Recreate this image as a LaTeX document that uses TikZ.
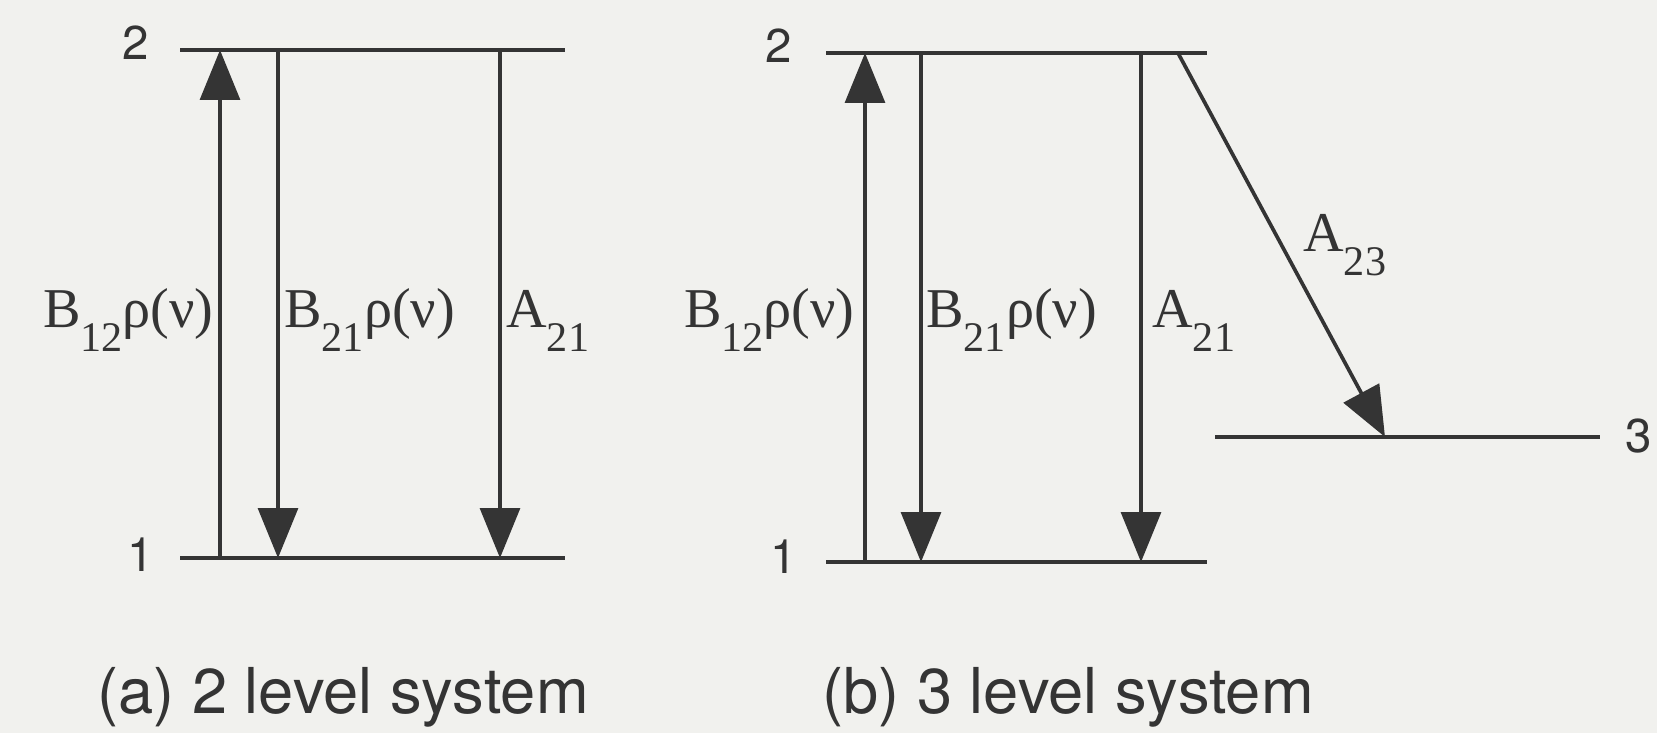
\documentclass[tikz,border=0pt]{standalone}
\usepackage{fontspec}
\setmainfont{Liberation Serif}
\setsansfont{TeX Gyre Heros}
\usetikzlibrary{arrows.meta}
\definecolor{ink}{RGB}{52,52,52}
\definecolor{paper}{RGB}{241,241,238}
\newcommand{\lowidx}[1]{\raisebox{-0.42em}{\fontsize{24}{24}\selectfont #1}}
\tikzset{
  level/.style={ink, line width=2.4pt},
  trans/.style={ink, line width=1.8pt, -{Triangle[length=1cm,width=0.8cm]}},
  rate/.style={ink, inner sep=0pt, font=\fontsize{32}{32}\selectfont},
  num/.style={ink, inner sep=0pt, font=\sffamily\fontsize{27}{27}\selectfont},
  caption/.style={ink, inner sep=0pt, font=\sffamily\fontsize{36}{36}\selectfont},
}

\begin{document}
\begin{tikzpicture}[x=0.02cm, y=-0.02cm]
  \fill[paper] (0,0) rectangle (1657,733);
  \useasboundingbox (0,0) rectangle (1657,733);

  \coordinate (a2l) at (180,50);
  \coordinate (a2r) at (565,50);
  \coordinate (a1l) at (180,558);
  \coordinate (a1r) at (565,558);
  \coordinate (aup1) at (220,558);
  \coordinate (aup2) at (220,50);
  \coordinate (ast2) at (278,50);
  \coordinate (ast1) at (278,558);
  \coordinate (asp2) at (500,50);
  \coordinate (asp1) at (500,558);
  \draw[level] (a2l) -- (a2r);
  \draw[level] (a1l) -- (a1r);
  \draw[trans] (aup1) -- (aup2);
  \draw[trans] (ast2) -- (ast1);
  \draw[trans] (asp2) -- (asp1);
  \node[num] (an2) at (136,43) {2};
  \node[num] (an1) at (141,555) {1};
  \node[rate, anchor=base east] (aabs) at (214,328) {B\lowidx{12}ρ(ν)};
  \node[rate, anchor=base west] (astim) at (284,328) {B\lowidx{21}ρ(ν)};
  \node[rate, anchor=base west] (aspon) at (506,328) {A\lowidx{21}};
  \node[caption, anchor=base] (acap) at (343,713) {(a) 2 level system};

  \coordinate (b2l) at (826,53);
  \coordinate (b2r) at (1207,53);
  \coordinate (b1l) at (826,562);
  \coordinate (b1r) at (1207,562);
  \coordinate (b3l) at (1215,437);
  \coordinate (b3r) at (1600,437);
  \coordinate (bup1) at (865,562);
  \coordinate (bup2) at (865,53);
  \coordinate (bst2) at (921,53);
  \coordinate (bst1) at (921,562);
  \coordinate (bsp2) at (1141,53);
  \coordinate (bsp1) at (1141,562);
  \coordinate (bdec2) at (1178,53);
  \coordinate (bdec3) at (1385,437);
  \draw[level] (b2l) -- (b2r);
  \draw[level] (b1l) -- (b1r);
  \draw[level] (b3l) -- (b3r);
  \draw[trans] (bup1) -- (bup2);
  \draw[trans] (bst2) -- (bst1);
  \draw[trans] (bsp2) -- (bsp1);
  \draw[trans, line width=2.1pt] (bdec2) -- (bdec3);
  \node[num] (bn2) at (779,46) {2};
  \node[num] (bn1) at (784,557) {1};
  \node[num] (bn3) at (1639,436) {3};
  \node[rate, anchor=base east] (babs) at (855,328) {B\lowidx{12}ρ(ν)};
  \node[rate, anchor=base west] (bstim) at (926,328) {B\lowidx{21}ρ(ν)};
  \node[rate, anchor=base west] (bspon) at (1152,328) {A\lowidx{21}};
  \node[rate, anchor=base west] (bdecay) at (1303,252) {A\lowidx{23}};
  \node[caption, anchor=base] (bcap) at (1068,713) {(b) 3 level system};
\end{tikzpicture}
\end{document}
